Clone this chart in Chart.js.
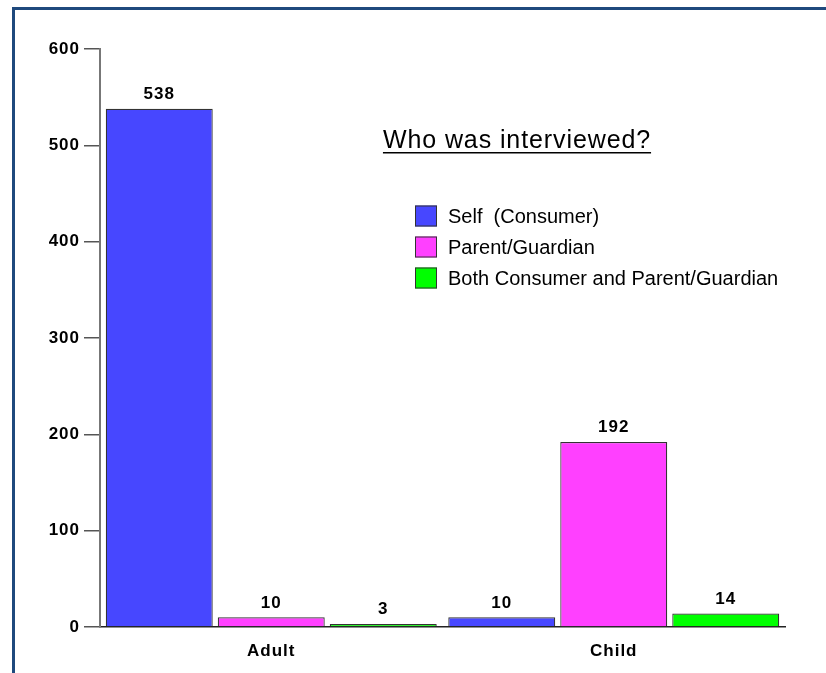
<!DOCTYPE html>
<html>
<head>
<meta charset="utf-8">
<script src="https://cdn.jsdelivr.net/npm/chart.js@4/dist/chart.umd.min.js"></script>
<style>
  html, body { margin: 0; padding: 0; background: #fff; }
  #wrap { position: relative; width: 826px; height: 673px; overflow: hidden; }
  #frame { position: absolute; left: 12px; top: 7px; right: 0; bottom: 0;
           border-top: 3px solid #1F497D; border-left: 3px solid #1F497D; }
  canvas { position: absolute; left: 0; top: 0; }
</style>
</head>
<body>
<div id="wrap">
  <div id="frame"></div>
  <canvas id="grafico" width="826" height="673"></canvas>
</div>
<script>
// Dados
const categorias = ['Adult', 'Child'];
const series = ['Self  (Consumer)', 'Parent/Guardian', 'Both Consumer and Parent/Guardian'];
const selfConsumer = [538, 10];
const parentGuardian = [10, 192];
const both = [3, 14];
const yTicks = [0, 100, 200, 300, 400, 500, 600];
const titulo = 'Who was interviewed?';

const cores = ['#4747FF', '#FF40FF', '#00FF00'];
const valores = [selfConsumer, parentGuardian, both];

// letter spacing para imitar o original
const espacamento = {
    id: 'espacamento',
    beforeDraw(chart) {
        chart.ctx.letterSpacing = '1px';
    }
};

// Rótulos de valor em cima das barras
const rotulos = {
    id: 'rotulos',
    afterDatasetsDraw(chart) {
        const ctx = chart.ctx;
        ctx.save();
        ctx.letterSpacing = '1px';
        ctx.font = 'bold 17px Arial, "Liberation Sans", sans-serif';
        ctx.fillStyle = '#000';
        ctx.textAlign = 'center';
        ctx.textBaseline = 'bottom';
        chart.data.datasets.forEach((ds, i) => {
            chart.getDatasetMeta(i).data.forEach((bar, j) => {
                ctx.fillText(String(ds.data[j]), bar.x, bar.y - 6);
            });
        });
        ctx.restore();
    }
};

// Título sublinhado e legenda dentro da área do gráfico
const legenda = {
    id: 'legenda',
    afterDraw(chart) {
        const ctx = chart.ctx;
        ctx.save();
        ctx.fillStyle = '#000';
        ctx.font = '25px Arial, "Liberation Sans", sans-serif';
        ctx.letterSpacing = '0.9px';
        ctx.textAlign = 'center';
        ctx.textBaseline = 'middle';
        const tx = 517;
        ctx.fillText(titulo, tx, 141);
        const w = ctx.measureText(titulo).width;
        ctx.fillRect(tx - w / 2, 152, w, 1.5);

        ctx.font = '20px Arial, "Liberation Sans", sans-serif';
        ctx.letterSpacing = '0px';
        ctx.textAlign = 'left';
        chart.data.datasets.forEach((ds, i) => {
            const y = 216 + i * 31;
            ctx.fillStyle = ds.backgroundColor;
            ctx.fillRect(415, y - 10.5, 22, 21);
            ctx.strokeStyle = '#333';
            ctx.lineWidth = 1;
            ctx.strokeRect(415.5, y - 10, 21, 20);
            ctx.fillStyle = '#000';
            ctx.fillText(ds.label, 448, y + 1);
        });
        ctx.restore();
    }
};

const ctx = document.getElementById('grafico').getContext('2d');
const grafico = new Chart(ctx, {
    type: 'bar',
    data: {
        labels: categorias,
        datasets: series.map((nome, i) => ({
            label: nome,
            data: valores[i],
            backgroundColor: cores[i],
            borderColor: '#333',
            borderWidth: 1.2,
            categoryPercentage: 0.981,
            barPercentage: 0.955
        }))
    },
    plugins: [espacamento, rotulos, legenda],
    options: {
        responsive: false,
        animation: false,
        devicePixelRatio: 1,
        layout: {
            padding: { top: 49, right: 41, left: 0, bottom: 0 }
        },
        plugins: {
            legend: { display: false },
            tooltip: { enabled: false }
        },
        scales: {
            x: {
                grid: { display: false },
                border: { display: true, color: '#222', width: 1.5 },
                ticks: {
                    color: '#000',
                    padding: 6,
                    font: { family: 'Arial, "Liberation Sans", sans-serif', size: 17, weight: 'bold' }
                },
                afterFit(scale) { scale.height = 46; }
            },
            y: {
                min: 0,
                max: 600,
                afterBuildTicks(scale) {
                    scale.ticks = yTicks.map(v => ({ value: v }));
                },
                grid: {
                    drawOnChartArea: false,
                    drawTicks: true,
                    tickLength: 16,
                    color: '#555',
                    lineWidth: 1.5
                },
                border: { display: true, color: '#777', width: 2 },
                ticks: {
                    color: '#000',
                    padding: 4,
                    font: { family: 'Arial, "Liberation Sans", sans-serif', size: 17, weight: 'bold' }
                },
                afterFit(scale) { scale.width = 100; }
            }
        }
    }
});
</script>
</body>
</html>
